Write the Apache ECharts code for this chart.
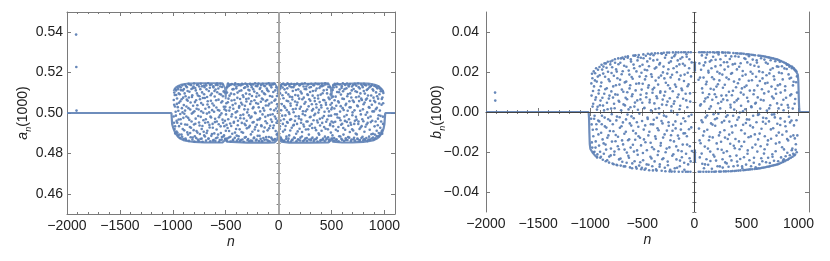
<!DOCTYPE html>
<html><head><meta charset="utf-8">
<script src="https://cdn.jsdelivr.net/npm/echarts@6/dist/echarts.min.js"></script>
<style>html,body{margin:0;padding:0;background:#fff}#c{width:830px;height:261px}</style>
</head><body><div id="c"></div>
<script>
// ---------- tick labels ----------
const xTicks = [-2000, -1500, -1000, -500, 0, 500, 1000];
const aTicks = [0.46, 0.48, 0.50, 0.52, 0.54];
const bTicks = [-0.04, -0.02, 0.00, 0.02, 0.04];

// ---------- a_n(1000) ----------
const aOutliers = [[-1914,0.5388],[-1912,0.5228],[-1910,0.5012]];
const aLowerEdge = [[-2000,0.5],[-1013,0.5],[-1010,0.4975],[-1006,0.4945],[-995,0.4925],[-980,0.4905],[-965,0.4893],[-950,0.4882],[-925,0.4872],[-900,0.4866],[-850,0.486],[-800,0.4857],[-700,0.4855],[-600,0.4854],[-530,0.4854],[-512,0.4858],[-504,0.4868],[-500,0.4878],[-496,0.4868],[-488,0.4858],[-470,0.4854],[-300,0.4853],[-100,0.4853],[-40,0.4854],[-25,0.4858],[-14,0.4868],[-7,0.4885],[-3,0.4898],[0,0.491],[3,0.4898],[7,0.4885],[14,0.4868],[25,0.4858],[40,0.4854],[100,0.4853],[300,0.4853],[470,0.4854],[488,0.4858],[496,0.4868],[500,0.4878],[504,0.4868],[512,0.4858],[530,0.4854],[600,0.4854],[700,0.4855],[800,0.4857],[850,0.486],[900,0.4866],[925,0.4872],[950,0.4882],[965,0.4893],[980,0.4905],[993,0.4925],[1000,0.4945],[1004,0.4975],[1008,0.5],[1100,0.5]];
const aUpperEdge = [[-993,0.5108],[-985,0.5118],[-970,0.5128],[-950,0.5135],[-925,0.514],[-900,0.5143],[-850,0.5146],[-750,0.5148],[-530,0.5148],[-516,0.5142],[-508,0.5125],[-503,0.5095],[-500,0.5068],[-497,0.5095],[-492,0.5125],[-484,0.5142],[-470,0.5148],[-40,0.5148],[-26,0.5142],[-16,0.513],[-8,0.5108],[-3,0.509],[0,0.5078],[3,0.509],[8,0.5108],[16,0.513],[26,0.5142],[40,0.5148],[470,0.5148],[484,0.5142],[492,0.5125],[497,0.5095],[500,0.507],[503,0.5095],[508,0.5125],[516,0.5142],[530,0.5148],[750,0.5148],[850,0.5146],[900,0.5142],[925,0.5138],[950,0.5131],[970,0.5122],[985,0.5112],[993,0.5104]];
const aCloud = [
[-991,0.5064],[-988,0.4952],[-986,0.5101],[-983,0.4921],[-980,0.5032],[-977,0.4899],[-975,0.5118],[-971,0.4987],[-968,0.5089],[-965,0.4908],[-962,0.5045],[-958,0.4952],[-955,0.5126],[-951,0.4889],[-948,0.5011],[-944,0.5097],[-941,0.4935],[-937,0.5132],[-933,0.4877],[-929,0.5058],[-926,0.4969],[-922,0.5113],[-918,0.4893],[-914,0.5024],[-910,0.5137],[-906,0.4921],[-902,0.5076],
[-898,0.4871],[-895,0.5119],[-891,0.4996],[-887,0.5141],[-883,0.4943],[-879,0.5083],[-875,0.4866],[-871,0.5032],[-867,0.5128],[-863,0.4904],[-859,0.5061],[-855,0.4976],[-851,0.5144],[-847,0.4862],[-843,0.5105],[-839,0.4931],[-835,0.5017],[-831,0.4880],[-827,0.5138],[-823,0.4958],[-819,0.5079],[-815,0.4869],[-811,0.5123],[-807,0.5003],[-803,0.4915],
[-799,0.5146],[-795,0.4859],[-791,0.5054],[-787,0.4947],[-783,0.5112],[-779,0.4876],[-775,0.5021],[-771,0.5139],[-767,0.4903],[-763,0.5087],[-759,0.4985],[-755,0.4862],[-751,0.5131],[-747,0.4938],[-743,0.5068],[-739,0.4871],[-735,0.5145],[-731,0.5009],[-727,0.4921],[-723,0.5102],[-719,0.4858],[-715,0.5041],[-711,0.4964],[-707,0.5136],[-703,0.4889],
[-698,0.5074],[-694,0.4952],[-690,0.5143],[-686,0.4863],[-682,0.5117],[-678,0.4997],[-674,0.4912],[-670,0.5058],[-666,0.5147],[-662,0.4874],[-658,0.5029],[-654,0.4941],[-650,0.5125],[-646,0.4860],[-642,0.5088],[-638,0.4978],[-634,0.5141],[-630,0.4896],[-626,0.5047],[-622,0.4927],[-618,0.5132],[-614,0.4866],[-610,0.5006],[-606,0.5109],[-602,0.4955],
[-598,0.4861],[-594,0.5139],[-590,0.5063],[-586,0.4918],[-582,0.5146],[-578,0.4879],[-574,0.5015],[-570,0.5121],[-566,0.4944],[-562,0.4858],[-558,0.5094],[-554,0.4989],[-550,0.5144],[-546,0.4901],[-542,0.5052],[-538,0.4868],[-534,0.5129],[-530,0.4967],[-526,0.5083],[-522,0.4884],[-518,0.5031],[-513,0.4935],[-509,0.5102],[-506,0.4871],
[-497,0.4993],[-494,0.5048],[-490,0.4862],[-486,0.5127],[-482,0.4926],[-478,0.5146],[-474,0.5071],[-470,0.4879],[-466,0.5012],[-462,0.5138],[-458,0.4948],[-454,0.4859],[-450,0.5096],[-446,0.4983],[-442,0.5143],[-438,0.4897],[-434,0.5039],[-430,0.4868],[-426,0.5118],[-422,0.4957],[-418,0.5064],[-414,0.4877],[-410,0.5147],[-406,0.5003],[-402,0.4921],
[-398,0.5131],[-394,0.4863],[-390,0.5075],[-386,0.4939],[-382,0.5142],[-378,0.4885],[-374,0.5026],[-370,0.5109],[-366,0.4861],[-362,0.4974],[-358,0.5137],[-354,0.5051],[-350,0.4906],[-346,0.5145],[-342,0.4869],[-338,0.5088],[-334,0.4992],[-330,0.4858],[-326,0.5124],[-322,0.4947],[-318,0.5036],[-314,0.5146],[-310,0.4881],[-306,0.5069],[-302,0.4962],
[-298,0.5139],[-294,0.4866],[-290,0.5017],[-286,0.5115],[-282,0.4929],[-278,0.4860],[-274,0.5093],[-270,0.5144],[-266,0.4976],[-262,0.4894],[-258,0.5058],[-254,0.5128],[-250,0.4862],[-246,0.4953],[-242,0.5141],[-238,0.5029],[-234,0.4875],[-230,0.5106],[-226,0.4918],[-222,0.5147],[-218,0.4999],[-214,0.4864],[-210,0.5081],[-206,0.4942],[-202,0.5133],
[-198,0.4887],[-194,0.5046],[-190,0.5146],[-186,0.4861],[-182,0.4968],[-178,0.5119],[-174,0.5008],[-170,0.4872],[-166,0.5138],[-162,0.4935],[-158,0.5072],[-154,0.4859],[-150,0.5145],[-146,0.5024],[-142,0.4908],[-138,0.5097],[-134,0.4867],[-130,0.5133],[-126,0.4981],[-122,0.5059],[-118,0.4881],[-114,0.5143],[-110,0.4949],[-106,0.5113],[-102,0.4863],
[-98,0.5037],[-94,0.5147],[-90,0.4924],[-86,0.4860],[-82,0.5084],[-78,0.4991],[-74,0.5136],[-70,0.4878],[-66,0.5052],[-62,0.4957],[-58,0.5141],[-54,0.4865],[-50,0.5104],[-46,0.4938],[-42,0.5013],[-38,0.5145],[-34,0.4871],[-30,0.5066],[-26,0.4972],[-22,0.5127],[-18,0.4893],[-14,0.5043],[-10,0.4961],[-6,0.5032],
[4,0.4978],[8,0.5069],[12,0.4934],[16,0.5121],[20,0.4879],[24,0.5013],[28,0.5142],[32,0.4866],[36,0.5088],[40,0.4946],[44,0.5146],[48,0.4861],[52,0.5034],[56,0.5117],[60,0.4917],[64,0.4988],[68,0.5139],[72,0.4872],[76,0.5061],[80,0.4955],[84,0.5147],[88,0.4862],[92,0.5092],[96,0.5004],
[100,0.4889],[104,0.5133],[108,0.4966],[112,0.5047],[116,0.4859],[120,0.5145],[124,0.4927],[128,0.5079],[132,0.4868],[136,0.5018],[140,0.5128],[144,0.4941],[148,0.5143],[152,0.4876],[156,0.5057],[160,0.4984],[164,0.5114],[168,0.4860],[172,0.5039],[176,0.5146],[180,0.4909],[184,0.5086],[188,0.4869],[192,0.4973],[196,0.5137],
[200,0.5021],[204,0.4864],[208,0.5106],[212,0.4952],[216,0.5144],[220,0.4884],[224,0.5068],[228,0.4995],[232,0.4861],[236,0.5131],[240,0.4933],[244,0.5046],[248,0.5147],[252,0.4873],[256,0.5009],[260,0.5118],[264,0.4958],[268,0.4862],[272,0.5092],[276,0.5141],[280,0.4919],[284,0.5033],[288,0.4869],[292,0.5126],[296,0.4979],
[300,0.5061],[304,0.4865],[308,0.5145],[312,0.4945],[316,0.5012],[320,0.4878],[324,0.5109],[328,0.5139],[332,0.4861],[336,0.4989],[340,0.5074],[344,0.4927],[348,0.5146],[352,0.4870],[356,0.5043],[360,0.5121],[364,0.4963],[368,0.4859],[372,0.5087],[376,0.5002],[380,0.5143],[384,0.4892],[388,0.5054],[392,0.4938],[396,0.5132],
[400,0.4866],[404,0.5027],[408,0.5144],[412,0.4951],[416,0.5098],[420,0.4874],[424,0.5136],[428,0.4985],[432,0.5063],[436,0.4862],[440,0.5147],[444,0.4922],[448,0.5041],[452,0.4869],[456,0.5115],[460,0.4968],[464,0.5142],[468,0.4880],[472,0.5076],[476,0.5008],[480,0.4861],[484,0.5128],[488,0.4946],[492,0.5092],[496,0.4987],
[503,0.5049],[507,0.4873],[511,0.5114],[515,0.4934],[519,0.5137],[523,0.4864],[527,0.5022],[531,0.5145],[535,0.4957],[539,0.5081],[543,0.4868],[547,0.5129],[551,0.4993],[555,0.5146],[559,0.4911],[563,0.5058],[567,0.4860],[571,0.5103],[575,0.4975],[579,0.5141],[583,0.4884],[587,0.5034],[591,0.4942],[595,0.5124],[599,0.4867],
[603,0.5071],[607,0.5147],[611,0.4926],[615,0.5015],[619,0.4862],[623,0.5118],[627,0.4961],[631,0.5139],[635,0.4875],[639,0.5046],[643,0.4990],[647,0.5146],[651,0.4866],[655,0.5094],[659,0.4937],[663,0.5131],[667,0.4878],[671,0.5028],[675,0.5143],[679,0.4952],[683,0.4861],[687,0.5077],[691,0.5112],[695,0.4919],[699,0.5003],
[703,0.5138],[707,0.4869],[711,0.5055],[715,0.4946],[719,0.5144],[723,0.4863],[727,0.5108],[731,0.4981],[735,0.5135],[739,0.4894],[743,0.5037],[747,0.4870],[751,0.5146],[755,0.4958],[759,0.5082],[763,0.4862],[767,0.5121],[771,0.5011],[775,0.4928],[779,0.5142],[783,0.4876],[787,0.5064],[791,0.4969],[795,0.5128],[799,0.4865],
[803,0.5043],[807,0.5144],[811,0.4907],[815,0.5096],[819,0.4866],[823,0.4991],[827,0.5137],[831,0.4943],[835,0.5072],[839,0.4861],[843,0.5119],[847,0.4976],[851,0.5141],[855,0.4883],[859,0.5026],[863,0.4868],[867,0.5132],[871,0.4955],[875,0.5087],[879,0.4874],[883,0.5139],[887,0.5008],[891,0.4897],[895,0.5111],[899,0.4869],
[903,0.5061],[907,0.4934],[911,0.5136],[915,0.4875],[919,0.5019],[923,0.5129],[927,0.4912],[931,0.5083],[935,0.4884],[939,0.4972],[943,0.5131],[947,0.4901],[951,0.5047],[955,0.5122],[959,0.4893],[963,0.4986],[967,0.5117],[971,0.4904],[975,0.5069],[979,0.4897],[983,0.5108],[987,0.4946],[990,0.5099]
];
const aCloudMore = [
[-992,0.4983],[-987,0.5041],[-982,0.5089],[-978,0.4934],[-973,0.5006],[-969,0.5112],[-964,0.4961],[-960,0.5072],[-956,0.4902],[-953,0.5029],[-949,0.5118],[-945,0.4968],[-942,0.5051],[-938,0.4893],[-934,0.5093],[-930,0.4995],[-925,0.5127],[-921,0.4947],[-917,0.5068],[-912,0.4882],[-908,0.5003],[-904,0.5112],[-900,0.4976],
[-896,0.5039],[-892,0.4914],[-888,0.5097],[-884,0.5012],[-880,0.4874],[-876,0.5134],[-872,0.4983],[-868,0.5066],[-864,0.4942],[-860,0.5109],[-856,0.4893],[-852,0.5024],[-848,0.5077],[-844,0.4966],[-840,0.5141],[-836,0.4901],[-832,0.5052],[-828,0.4927],[-824,0.5119],[-820,0.4997],[-816,0.5088],[-812,0.4879],[-808,0.5036],[-804,0.5131],
[-800,0.4943],[-796,0.5009],[-792,0.4885],[-788,0.5124],[-784,0.4972],[-780,0.5063],[-776,0.4911],[-772,0.5097],[-768,0.5038],[-764,0.4868],[-760,0.5141],[-756,0.5017],[-752,0.4953],[-748,0.5083],[-744,0.4896],[-740,0.5118],[-736,0.4981],[-732,0.5049],[-728,0.4873],[-724,0.5132],[-720,0.4936],[-716,0.5074],[-712,0.5001],[-708,0.4907],[-704,0.5093],
[-700,0.5128],[-696,0.4884],[-692,0.5021],[-688,0.4969],[-684,0.5136],[-680,0.4901],[-676,0.5079],[-672,0.5042],[-668,0.4954],[-664,0.4872],[-660,0.5109],[-656,0.5003],[-652,0.4928],[-648,0.5139],[-644,0.4982],[-640,0.5061],[-636,0.4887],[-632,0.5096],[-628,0.5014],[-624,0.4946],[-620,0.4863],[-616,0.5127],[-612,0.5037],[-608,0.4899],[-604,0.5082],
[-600,0.4971],[-596,0.5116],[-592,0.4875],[-588,0.5027],[-584,0.4958],[-580,0.5103],[-576,0.5138],[-572,0.4893],[-568,0.5066],[-564,0.4979],[-560,0.5012],[-556,0.4866],[-552,0.5131],[-548,0.4934],[-544,0.5091],[-540,0.4998],[-536,0.4881],[-532,0.5058],[-528,0.5141],[-524,0.4952],[-520,0.5107],[-516,0.4889],[-511,0.5018],[-507,0.4962],[-503,0.5031],
[-499,0.4912],[-495,0.5012],[-492,0.4941],[-488,0.5101],[-484,0.4874],[-480,0.5053],[-476,0.4969],[-472,0.5134],[-468,0.4911],[-464,0.5086],[-460,0.5027],[-456,0.4882],[-452,0.5141],[-448,0.4936],[-444,0.5062],[-440,0.4994],[-436,0.5117],[-432,0.4865],[-428,0.5021],[-424,0.4952],[-420,0.5093],[-416,0.5139],[-412,0.4903],[-408,0.5047],[-404,0.4978],
[-400,0.5122],[-396,0.4888],[-392,0.5008],[-388,0.5101],[-384,0.4962],[-380,0.4871],[-376,0.5138],[-372,0.5034],[-368,0.4919],[-364,0.5069],[-360,0.4989],[-356,0.4866],[-352,0.5112],[-348,0.4951],[-344,0.5042],[-340,0.5141],[-336,0.4902],[-332,0.5079],[-328,0.4973],[-324,0.5018],[-320,0.4878],[-316,0.5127],[-312,0.4939],[-308,0.5096],[-304,0.5057],
[-300,0.4924],[-296,0.5003],[-292,0.5131],[-288,0.4871],[-284,0.5072],[-280,0.4988],[-276,0.5112],[-272,0.4937],[-268,0.5045],[-264,0.4863],[-260,0.5139],[-256,0.4982],[-252,0.5084],[-248,0.4907],[-244,0.5023],[-240,0.5118],[-236,0.4955],[-232,0.4879],[-228,0.5063],[-224,0.5002],[-220,0.4931],[-216,0.5134],[-212,0.5049],[-208,0.4868],[-204,0.5098],
[-200,0.4966],[-196,0.5141],[-192,0.4912],[-188,0.5028],[-184,0.5087],[-180,0.4887],[-176,0.4974],[-172,0.5125],[-168,0.5056],[-164,0.4939],[-160,0.4862],[-156,0.5107],[-152,0.4993],[-148,0.5067],[-144,0.4876],[-140,0.5136],[-136,0.5012],[-132,0.4928],[-128,0.5093],[-124,0.4959],[-120,0.5037],[-116,0.4869],[-112,0.5121],[-108,0.5064],[-104,0.4914],
[-100,0.4988],[-96,0.5108],[-92,0.4881],[-88,0.5046],[-84,0.5138],[-80,0.4937],[-76,0.5018],[-72,0.4968],[-68,0.5127],[-64,0.4872],[-60,0.5081],[-56,0.4994],[-52,0.4926],[-48,0.5143],[-44,0.4867],[-40,0.5061],[-36,0.4983],[-32,0.5112],[-28,0.4911],[-24,0.5022],[-20,0.4952],[-16,0.5084],[-12,0.4897],[-8,0.5008],
[6,0.5013],[10,0.4921],[14,0.5097],[18,0.4963],[22,0.5134],[26,0.4871],[30,0.5044],[34,0.4987],[38,0.5126],[42,0.4908],[46,0.5073],[50,0.4969],[54,0.4864],[58,0.5139],[62,0.5026],[66,0.4936],[70,0.5101],[74,0.4883],[78,0.5014],[82,0.5122],[86,0.4952],[90,0.5058],[94,0.4873],[98,0.5142],
[102,0.4995],[106,0.5081],[110,0.4913],[114,0.5036],[118,0.4969],[122,0.5128],[126,0.4866],[130,0.5067],[134,0.5109],[138,0.4938],[142,0.5004],[146,0.4879],[150,0.5136],[154,0.4961],[158,0.5089],[162,0.5021],[166,0.4897],[170,0.5143],[174,0.4946],[178,0.5052],[182,0.4869],[186,0.5117],[190,0.4984],[194,0.5071],[198,0.4922],
[202,0.5138],[206,0.4878],[210,0.5031],[214,0.4967],[218,0.5097],[222,0.4906],[226,0.5144],[230,0.5009],[234,0.4943],[238,0.5076],[242,0.4865],[246,0.5119],[250,0.4989],[254,0.5054],[258,0.4918],[262,0.5131],[266,0.4876],[270,0.5017],[274,0.4958],[278,0.5089],[282,0.5142],[286,0.4893],[290,0.5068],[294,0.4937],[298,0.5104],
[302,0.4981],[306,0.5129],[310,0.4872],[314,0.5043],[318,0.4926],[322,0.5086],[326,0.5019],[330,0.4964],[334,0.5137],[338,0.4869],[342,0.5059],[346,0.4996],[350,0.5111],[354,0.4915],[358,0.5027],[362,0.4877],[366,0.5143],[370,0.4953],[374,0.5072],[378,0.4899],[382,0.5016],[386,0.5124],[390,0.4971],[394,0.4863],[398,0.5091],
[402,0.5038],[406,0.4912],[410,0.5133],[414,0.4976],[418,0.4868],[422,0.5064],[426,0.5112],[430,0.4931],[434,0.5006],[438,0.4883],[442,0.5141],[446,0.5051],[450,0.4957],[454,0.4874],[458,0.5097],[462,0.5022],[466,0.4919],[470,0.5129],[474,0.4986],[478,0.4868],[482,0.5068],[486,0.4939],[490,0.5041],[494,0.4903],[498,0.5018],
[501,0.4958],[505,0.5027],[509,0.4889],[513,0.5081],[517,0.4953],[521,0.5126],[525,0.4876],[529,0.5063],[533,0.4994],[537,0.5139],[541,0.4917],[545,0.5036],[549,0.4868],[553,0.5104],[557,0.4978],[561,0.5142],[565,0.4931],[569,0.5052],[573,0.4885],[577,0.5116],[581,0.5007],[585,0.4964],[589,0.5091],[593,0.4872],[597,0.5133],
[601,0.4947],[605,0.5024],[609,0.5108],[613,0.4893],[617,0.5069],[621,0.4983],[625,0.5141],[629,0.4917],[633,0.5039],[637,0.4866],[641,0.5122],[645,0.4956],[649,0.5083],[653,0.5011],[657,0.4881],[661,0.5137],[665,0.4969],[669,0.5058],[673,0.4906],[677,0.5097],[681,0.5028],[685,0.4942],[689,0.4869],[693,0.5131],[697,0.4989],
[701,0.5062],[705,0.4913],[709,0.5119],[713,0.4877],[717,0.5013],[721,0.4962],[725,0.5141],[729,0.4898],[733,0.5078],[737,0.4967],[741,0.5104],[745,0.4874],[749,0.5033],[753,0.4946],[757,0.5128],[761,0.5059],[765,0.4921],[769,0.4866],[773,0.5097],[777,0.4993],[781,0.5071],[785,0.4935],[789,0.5136],[793,0.4882],[797,0.5018],
[801,0.4959],[805,0.5109],[809,0.4871],[813,0.5052],[817,0.5139],[821,0.4932],[825,0.5066],[829,0.4876],[833,0.5114],[837,0.5003],[841,0.4951],[845,0.5087],[849,0.4869],[853,0.5029],[857,0.5126],[861,0.4917],[865,0.5061],[869,0.4983],[873,0.5134],[877,0.4895],[881,0.5041],[885,0.4962],[889,0.5117],[893,0.4879],[897,0.5076],
[901,0.5008],[905,0.5134],[909,0.4893],[913,0.5054],[917,0.4958],[921,0.5102],[925,0.4886],[929,0.5026],[933,0.5122],[937,0.4939],[941,0.5071],[945,0.4989],[949,0.4886],[953,0.5093],[957,0.5012],[961,0.4927],[965,0.5108],[969,0.4958],[973,0.5041],[977,0.4913],[981,0.5077],[985,0.4982],[988,0.5048]
];

// ---------- b_n(1000) ----------
const bOutliers = [[-1913,0.0097],[-1911,0.0057]];
const bStepLeft = [[-2000,0],[-1015,0],[-1011,-0.003],[-1008,-0.010],[-1004,-0.016],[-998,-0.0185],[-988,-0.0195],[-975,-0.0204],[-955,-0.0217],[-930,-0.0228]];
const bStepRight = [[930,0.0228],[955,0.0217],[975,0.0204],[988,0.0194],[993,0.0186],[997,0.016],[1000,0.011],[1003,0.005],[1006,0.0015],[1010,0],[1100,0]];
const bSpikeUp = [[4,0.0203],[4,0.0253]];
const bSpikeDown = [[4,-0.0188],[4,-0.0255]];
const bCloud = [
[-989,0.0143],[-986,-0.0062],[-983,0.0191],[-980,-0.0178],[-977,0.0027],[-973,0.0105],[-970,-0.0121],[-966,0.0203],[-962,-0.0034],[-959,-0.0199],[-955,0.0158],[-951,0.0061],[-947,-0.0147],[-943,0.0219],[-939,-0.0086],[-935,0.0012],[-931,-0.0212],[-927,0.0177],[-923,-0.0043],[-919,0.0092],[-915,-0.0168],[-911,0.0225],[-907,0.0034],[-903,-0.0229],
[-899,0.0129],[-895,-0.0104],[-891,0.0236],[-887,-0.0019],[-883,0.0071],[-879,-0.0239],[-875,0.0192],[-871,-0.0157],[-867,0.0008],[-863,0.0243],[-859,-0.0072],[-855,0.0114],[-851,-0.0246],[-847,-0.0188],[-843,0.0221],[-839,0.0046],[-835,-0.0129],[-831,0.0251],[-827,-0.0036],[-823,0.0163],[-819,-0.0253],[-815,0.0082],[-811,-0.0095],[-807,0.0238],[-803,-0.0217],
[-799,0.0017],[-795,0.0195],[-791,-0.0148],[-787,0.0257],[-783,-0.0061],[-779,0.0128],[-775,-0.0261],[-771,0.0041],[-767,-0.0198],[-763,0.0264],[-759,0.0088],[-755,-0.0115],[-751,0.0213],[-747,-0.0264],[-743,-0.0023],[-739,0.0169],[-735,-0.0171],[-731,0.0268],[-727,0.0056],[-723,-0.0237],[-719,0.0137],[-715,-0.0079],[-711,0.0246],[-707,-0.0268],[-703,0.0009],
[-698,0.0189],[-694,-0.0142],[-690,0.0272],[-686,-0.0052],[-682,0.0101],[-678,-0.0272],[-674,0.0231],[-670,-0.0188],[-666,0.0033],[-662,0.0276],[-658,-0.0099],[-654,0.0152],[-650,-0.0254],[-646,0.0064],[-642,-0.0013],[-638,0.0278],[-634,-0.0219],[-630,0.0207],[-626,-0.0136],[-622,0.0118],[-618,-0.0277],[-614,0.0024],[-610,0.0263],[-606,-0.0068],[-602,0.0175],
[-598,-0.0281],[-594,0.0089],[-590,-0.0164],[-586,0.0282],[-582,-0.0031],[-578,0.0219],[-574,-0.0246],[-570,0.0047],[-566,0.0284],[-562,-0.0107],[-558,0.0141],[-554,-0.0283],[-550,-0.0192],[-546,0.0258],[-542,0.0011],[-538,-0.0074],[-534,0.0285],[-530,-0.0268],[-526,0.0177],[-522,-0.0129],[-518,0.0063],[-514,0.0271],[-510,-0.0286],[-506,0.0112],[-502,-0.0045],
[-498,0.0236],[-494,-0.0205],[-490,0.0288],[-486,-0.0088],[-482,0.0019],[-478,-0.0289],[-474,0.0163],[-470,-0.0151],[-466,0.0281],[-462,0.0074],[-458,-0.0262],[-454,0.0209],[-450,-0.0028],[-446,0.0291],[-442,-0.0117],[-438,0.0134],[-434,-0.0291],[-430,0.0048],[-426,0.0267],[-422,-0.0224],[-418,-0.0061],[-414,0.0189],[-410,0.0292],[-406,-0.0176],[-402,0.0096],
[-398,-0.0292],[-394,0.0258],[-390,-0.0039],[-386,0.0121],[-382,-0.0247],[-378,0.0293],[-374,0.0015],[-370,-0.0134],[-366,0.0223],[-362,-0.0293],[-358,0.0069],[-354,-0.0081],[-350,0.0294],[-346,-0.0196],[-342,0.0172],[-338,-0.0008],[-334,-0.0274],[-330,0.0245],[-326,0.0103],[-322,-0.0155],[-318,0.0294],[-314,-0.0294],[-310,0.0037],[-306,-0.0057],[-302,0.0198],
[-298,-0.0231],[-294,0.0296],[-290,0.0082],[-286,-0.0112],[-282,0.0271],[-278,-0.0296],[-274,0.0146],[-270,-0.0023],[-266,-0.0183],[-262,0.0297],[-258,0.0052],[-254,-0.0266],[-250,0.0214],[-246,-0.0069],[-242,0.0297],[-238,-0.0297],[-234,0.0118],[-230,-0.0141],[-226,0.0253],[-222,0.0006],[-218,-0.0298],[-214,0.0186],[-210,-0.0094],[-206,0.0298],[-202,-0.0211],
[-198,0.0041],[-194,0.0279],[-190,-0.0298],[-186,0.0137],[-182,-0.0047],[-178,0.0298],[-174,-0.0172],[-170,0.0229],[-166,-0.0279],[-162,0.0074],[-158,-0.0118],[-154,0.0298],[-150,-0.0299],[-146,0.0163],[-142,0.0014],[-138,-0.0243],[-134,0.0266],[-130,-0.0088],[-126,0.0299],[-122,-0.0196],[-118,0.0109],[-114,-0.0299],[-110,0.0241],[-106,-0.0031],[-102,0.0299],
[-98,-0.0254],[-94,0.0187],[-90,-0.0106],[-86,0.0299],[-82,-0.0299],[-78,0.0058],[-74,0.0276],[-70,-0.0163],[-66,0.0129],[-62,-0.0299],[-58,0.0299],[-54,-0.0021],[-50,0.0219],[-46,-0.0231],[-42,0.0093],[-38,-0.0299],[-34,0.0299],[-30,-0.0077],[-26,0.0248],
[42,-0.0299],[46,0.0299],[50,-0.0142],[54,0.0172],[58,-0.0299],[62,0.0039],[66,0.0299],[70,-0.0208],[74,0.0118],[78,-0.0051],[82,0.0299],[86,-0.0299],[90,0.0233],[94,-0.0097],[98,0.0299],
[102,-0.0262],[106,0.0067],[110,0.0271],[114,-0.0299],[118,0.0151],[122,-0.0018],[126,0.0299],[130,-0.0183],[134,0.0206],[138,-0.0299],[142,0.0089],[146,-0.0124],[150,0.0299],[154,-0.0245],[158,0.0028],[162,0.0259],[166,-0.0299],[170,0.0174],[174,-0.0063],[178,0.0299],[182,-0.0214],[186,0.0112],[190,-0.0299],[194,0.0297],[198,-0.0036],
[202,0.0228],[206,-0.0298],[210,0.0075],[214,-0.0157],[218,0.0298],[222,-0.0271],[226,0.0139],[230,-0.0009],[234,0.0298],[238,-0.0298],[242,0.0193],[246,-0.0102],[250,0.0264],[254,-0.0298],[258,0.0051],[262,-0.0189],[266,0.0298],[270,-0.0236],[274,0.0121],[278,0.0297],[282,-0.0297],[286,-0.0044],[290,0.0212],[294,-0.0128],[298,0.0297],
[302,-0.0297],[306,0.0083],[310,-0.0257],[314,0.0249],[318,-0.0016],[322,0.0297],[326,-0.0296],[330,0.0164],[334,-0.0113],[338,0.0296],[342,-0.0221],[346,0.0036],[350,-0.0296],[354,0.0278],[358,-0.0072],[362,0.0195],[366,-0.0295],[370,0.0106],[374,0.0295],[378,-0.0169],[382,0.0012],[386,-0.0295],[390,0.0241],[394,-0.0135],[398,0.0294],
[402,-0.0294],[406,0.0058],[410,-0.0248],[414,0.0293],[418,0.0144],[422,-0.0293],[426,-0.0027],[430,0.0226],[434,-0.0186],[438,0.0292],[442,-0.0292],[446,0.0097],[450,-0.0091],[454,0.0292],[458,-0.0272],[462,0.0181],[466,0.0004],[470,-0.0291],[474,0.0291],[478,-0.0149],[482,0.0125],[486,-0.0290],[490,0.0265],[494,-0.0055],[498,0.0289],
[502,-0.0289],[506,0.0071],[510,-0.0209],[514,0.0288],[518,-0.0288],[522,0.0156],[526,-0.0038],[530,0.0287],[534,-0.0287],[538,0.0237],[542,-0.0122],[546,0.0029],[550,0.0286],[554,-0.0286],[558,0.0191],[562,-0.0077],[566,0.0285],[570,-0.0254],[574,0.0108],[578,-0.0285],[582,0.0284],[586,-0.0163],[590,0.0046],[594,-0.0284],[598,0.0259],
[602,-0.0283],[606,0.0132],[610,-0.0015],[614,0.0282],[618,-0.0282],[622,0.0203],[626,-0.0108],[630,0.0281],[634,-0.0281],[638,0.0061],[642,-0.0231],[646,0.0280],[650,-0.0279],[654,0.0168],[658,-0.0049],[662,0.0279],[666,-0.0278],[670,0.0093],[674,-0.0186],[678,0.0277],[682,-0.0276],[686,0.0247],[690,-0.0031],[694,0.0275],[698,-0.0274],
[702,0.0146],[706,-0.0142],[710,0.0273],[714,-0.0273],[718,0.0018],[722,0.0272],[726,-0.0271],[730,0.0211],[734,-0.0087],[738,0.0270],[742,-0.0269],[746,0.0077],[750,-0.0224],[754,0.0268],[758,-0.0267],[762,0.0179],[766,-0.0012],[770,0.0266],[774,-0.0265],[778,0.0115],[782,-0.0158],[786,0.0264],[790,-0.0263],[794,0.0043],[798,0.0262],
[802,-0.0261],[806,0.0226],[810,-0.0103],[814,0.0259],[818,-0.0258],[822,0.0138],[826,-0.0032],[830,0.0255],[834,-0.0254],[838,0.0194],[842,-0.0176],[846,0.0251],[850,-0.0250],[854,0.0061],[858,-0.0236],[862,0.0247],[866,-0.0246],[870,0.0108],[874,-0.0071],[878,0.0243],[882,-0.0241],[886,0.0215],[890,-0.0135],[894,0.0239],[898,-0.0238],
[902,0.0022],[906,0.0235],[910,-0.0233],[914,0.0167],[918,-0.0052],[922,0.0230],[926,-0.0229],[930,0.0089],[934,-0.0191],[938,0.0226],[942,-0.0224],[946,0.0133],[950,-0.0117],[954,0.0219],[958,-0.0217],[962,0.0041],[966,-0.0213],[970,0.0208],[974,-0.0161],[978,0.0204],[982,-0.0201],[985,0.0097]
];
const bCloudMore = [
[-991,-0.0034],[-987,0.0082],[-984,-0.0152],[-979,0.0169],[-975,-0.0089],[-971,0.0041],[-967,-0.0201],[-963,0.0128],[-958,-0.0019],[-953,0.0194],[-949,-0.0178],[-945,0.0073],[-941,-0.0061],[-937,0.0152],[-933,-0.0227],[-929,0.0026],[-925,0.0211],[-921,-0.0112],[-917,0.0109],[-913,-0.0047],[-909,0.0184],[-905,-0.0199],
[-901,0.0057],[-897,-0.0224],[-893,0.0147],[-889,-0.0061],[-885,0.0212],[-881,-0.0137],[-877,0.0032],[-873,0.0227],[-869,-0.0209],[-865,0.0091],[-861,-0.0028],[-857,0.0176],[-853,-0.0163],[-849,0.0243],[-845,-0.0078],[-841,0.0119],[-837,-0.0241],[-833,0.0014],[-829,0.0201],[-825,-0.0117],[-821,0.0067],[-817,-0.0223],[-813,0.0154],[-809,-0.0044],[-805,0.0252],
[-801,-0.0183],[-797,0.0103],[-793,-0.0011],[-789,0.0224],[-785,-0.0258],[-781,0.0072],[-777,-0.0096],[-773,0.0181],[-769,-0.0214],[-765,0.0019],[-761,0.0246],[-757,-0.0146],[-753,0.0134],[-749,-0.0042],[-745,0.0202],[-741,-0.0266],[-737,0.0086],[-733,-0.0124],[-729,0.0239],[-725,-0.0186],[-721,0.0051],[-717,-0.0026],[-713,0.0161],[-709,-0.0233],[-705,0.0268],
[-700,-0.0071],[-696,0.0112],[-692,-0.0249],[-688,0.0204],[-684,-0.0162],[-680,0.0038],[-676,0.0265],[-672,-0.0109],[-668,0.0148],[-664,-0.0272],[-660,0.0071],[-656,-0.0037],[-652,0.0226],[-648,-0.0203],[-644,0.0099],[-640,0.0271],[-636,-0.0141],[-632,0.0013],[-628,-0.0229],[-624,0.0187],[-620,-0.0057],[-616,0.0134],[-612,-0.0178],[-608,0.0252],[-604,-0.0022],
[-600,0.0079],[-596,-0.0257],[-592,0.0166],[-588,-0.0094],[-584,0.0237],[-580,-0.0198],[-576,0.0027],[-572,0.0281],[-568,-0.0139],[-564,0.0108],[-560,-0.0275],[-556,0.0203],[-552,-0.0051],[-548,0.0058],[-544,-0.0214],[-540,0.0274],[-536,-0.0121],[-532,0.0143],[-528,-0.0008],[-524,0.0229],[-520,-0.0251],[-516,0.0086],[-512,-0.0167],[-508,0.0196],[-504,-0.0279],
[-500,0.0046],[-496,0.0141],[-492,-0.0241],[-488,0.0269],[-484,-0.0137],[-480,0.0021],[-476,0.0211],[-472,-0.0067],[-468,-0.0283],[-464,0.0179],[-460,0.0093],[-456,-0.0191],[-452,0.0253],[-448,-0.0035],[-444,0.0122],[-440,-0.0264],[-436,0.0229],[-432,-0.0099],[-428,0.0061],[-424,0.0287],[-420,-0.0154],[-416,0.0008],[-412,-0.0232],[-408,0.0176],[-404,-0.0271],
[-400,0.0113],[-396,-0.0062],[-392,0.0284],[-388,-0.0186],[-384,0.0043],[-380,0.0217],[-376,-0.0122],[-372,0.0157],[-368,-0.0287],[-364,0.0079],[-360,-0.0029],[-356,0.0261],[-352,-0.0215],[-348,0.0137],[-344,-0.0091],[-340,0.0019],[-336,0.0238],[-332,-0.0262],[-328,0.0096],[-324,-0.0168],[-320,0.0182],[-316,-0.0045],[-312,0.0291],[-308,-0.0236],[-304,0.0062],
[-300,-0.0128],[-296,0.0227],[-292,-0.0018],[-288,0.0168],[-284,-0.0279],[-280,0.0101],[-276,-0.0201],[-272,0.0285],[-268,0.0035],[-264,-0.0093],[-260,0.0192],[-256,-0.0248],[-252,0.0134],[-248,-0.0051],[-244,0.0246],[-240,-0.0177],[-236,0.0069],[-232,-0.0289],[-228,0.0173],[-224,-0.0116],[-220,0.0028],[-216,0.0271],[-212,-0.0219],[-208,0.0104],[-204,-0.0064],
[-200,0.0219],[-196,-0.0147],[-192,0.0054],[-188,-0.0281],[-184,0.0287],[-180,-0.0082],[-176,0.0126],[-172,-0.0237],[-168,0.0199],[-164,-0.0013],[-160,0.0258],[-156,-0.0192],[-152,0.0087],[-148,-0.0133],[-144,0.0238],[-140,-0.0271],[-136,0.0031],[-132,0.0182],[-128,-0.0059],[-124,0.0117],[-120,-0.0226],[-116,0.0274],[-112,-0.0163],[-108,0.0066],[-104,-0.0107],
[-100,0.0155],[-96,-0.0289],[-92,0.0232],[-88,-0.0046],[-84,0.0091],[-80,-0.0209],[-76,0.0289],[-72,-0.0121],[-68,0.0024],[-64,0.0196],[-60,-0.0262],[-56,0.0138],[-52,-0.0086],[-48,0.0264],[-44,-0.0171],[-40,0.0052],[-36,-0.0247],[-32,0.0178],[-28,-0.0014],[-24,-0.0195],
[40,0.0161],[44,-0.0083],[48,0.0243],[52,-0.0227],[56,0.0032],[60,-0.0156],[64,0.0211],[68,-0.0042],[72,0.0283],[76,-0.0259],[80,0.0096],[84,-0.0118],[88,0.0172],[92,-0.0281],[96,0.0053],
[100,-0.0173],[104,0.0248],[108,-0.0027],[112,0.0139],[116,-0.0236],[120,0.0287],[124,-0.0089],[128,0.0074],[132,-0.0264],[136,0.0197],[140,-0.0141],[144,0.0016],[148,0.0252],[152,-0.0198],[156,0.0116],[160,-0.0057],[164,0.0219],[168,-0.0284],[172,0.0061],[176,-0.0127],[180,0.0276],[184,-0.0011],[188,0.0164],[192,-0.0223],[196,0.0089],
[200,-0.0069],[204,0.0261],[208,-0.0243],[212,0.0127],[216,-0.0031],[220,0.0201],[224,-0.0185],[228,0.0044],[232,0.0288],[236,-0.0117],[240,0.0158],[244,-0.0272],[248,0.0018],[252,0.0234],[256,-0.0149],[260,0.0082],[264,-0.0052],[268,0.0187],[272,-0.0278],[276,0.0063],[280,-0.0204],[284,0.0249],[288,-0.0091],[292,0.0136],[296,-0.0252],
[300,0.0281],[304,-0.0024],[308,0.0172],[312,-0.0196],[316,0.0059],[320,-0.0135],[324,0.0227],[328,-0.0274],[332,0.0101],[336,-0.0048],[340,0.0265],[344,-0.0159],[348,0.0023],[352,0.0191],[356,-0.0242],[360,0.0084],[364,-0.0103],[368,0.0238],[372,-0.0019],[376,-0.0271],[380,0.0152],[384,0.0049],[388,-0.0181],[392,0.0279],[396,-0.0067],
[400,0.0124],[404,-0.0218],[408,0.0213],[412,-0.0039],[416,-0.0268],[420,0.0066],[424,0.0276],[428,-0.0147],[432,0.0163],[436,-0.0003],[440,-0.0235],[444,0.0244],[448,0.0031],[452,-0.0171],[456,0.0118],[460,-0.0281],[464,0.0205],[468,-0.0064],[472,0.0087],[476,-0.0226],[480,0.0269],[484,-0.0108],[488,0.0014],[492,0.0187],[496,-0.0263],
[500,0.0132],[504,-0.0037],[508,0.0248],[512,-0.0192],[516,0.0053],[520,-0.0126],[524,0.0279],[528,-0.0241],[532,0.0107],[536,-0.0068],[540,0.0201],[544,-0.0271],[548,0.0024],[552,0.0159],[556,-0.0178],[560,0.0262],[564,-0.0019],[568,0.0089],[572,-0.0229],[576,0.0231],[580,-0.0112],[584,0.0042],[588,-0.0276],[592,0.0176],[596,-0.0051],
[600,0.0247],[604,-0.0198],[608,0.0073],[612,-0.0137],[616,0.0226],[620,-0.0011],[624,-0.0262],[628,0.0155],[632,0.0017],[636,-0.0171],[640,0.0269],[644,-0.0084],[648,0.0114],[652,-0.0246],[656,0.0199],[660,-0.0029],[664,0.0058],[668,-0.0208],[672,0.0262],[676,-0.0121],[680,0.0143],[684,-0.0059],[688,-0.0251],[692,0.0184],[696,0.0007],
[700,-0.0163],[704,0.0241],[708,-0.0229],[712,0.0102],[716,-0.0047],[720,0.0193],[724,-0.0255],[728,0.0034],[732,0.0259],[736,-0.0134],[740,0.0127],[744,-0.0013],[748,-0.0211],[752,0.0219],[756,-0.0081],[760,0.0068],[764,-0.0244],[768,0.0162],[772,-0.0027],[776,0.0254],[780,-0.0196],[784,0.0091],[788,-0.0118],[792,0.0228],[796,-0.0059],
[800,0.0133],[804,-0.0246],[808,0.0018],[812,0.0197],[816,-0.0152],[820,0.0251],[824,-0.0065],[828,0.0097],[832,-0.0227],[836,0.0036],[840,0.0229],[844,-0.0114],[848,0.0163],[852,-0.0243],[856,0.0009],[860,-0.0187],[864,0.0218],[868,-0.0048],[872,0.0129],[876,-0.0221],[880,0.0071],[884,-0.0097],[888,0.0236],[892,-0.0204],[896,0.0035],
[900,-0.0142],[904,0.0188],[908,-0.0024],[912,0.0226],[916,-0.0216],[920,0.0083],[924,-0.0123],[928,0.0171],[932,-0.0043],[936,0.0219],[940,-0.0183],[944,0.0017],[948,-0.0209],[952,0.0151],[956,-0.0067],[960,0.0212],[964,-0.0132],[968,0.0065],[972,-0.0189],[976,0.0149],[980,-0.0041],[984,0.0178],[988,-0.0117]
];

// ---------- styling ----------
const BLUE = '#5E81B5';
const FRAME = '#7a7a7a';
const TXT = '#222';
const FONT = '"Liberation Sans", Arial, sans-serif';
const minus = v => (v < 0 ? '\u2212' : '') + Math.abs(v);

function xAxesFor(gi) {
  const base = {type:'value', gridIndex:gi, min:-2000, max:1100, splitLine:{show:false}};
  return [
    Object.assign({}, base, {position:'bottom',
      axisLine:{show:true, lineStyle:{color:FRAME, width:1}},
      axisTick:{show:true, inside:true, length:4, customValues:xTicks, lineStyle:{color:FRAME}},
      axisLabel:{show:true, customValues:xTicks, formatter:v=>minus(v), color:TXT, fontSize:14, fontFamily:FONT, margin:5},
      name:'n', nameLocation:'middle', nameGap:21, nameMoveOverlap:false,
      nameTextStyle:{fontStyle:'italic', fontSize:14, color:TXT, fontFamily:FONT}}),
    Object.assign({}, base, {position:'top',
      axisLine:{show:true, lineStyle:{color:FRAME, width:1}},
      axisTick:{show:true, inside:true, length:4, customValues:xTicks, lineStyle:{color:FRAME}},
      axisLabel:{show:false}}),
    Object.assign({}, base, {position:'bottom', interval:100,
      axisLine:{show:false}, axisTick:{show:true, inside:true, length:2, lineStyle:{color:FRAME}}, axisLabel:{show:false}}),
    Object.assign({}, base, {position:'top', interval:100,
      axisLine:{show:false}, axisTick:{show:true, inside:true, length:2, lineStyle:{color:FRAME}}, axisLabel:{show:false}})
  ];
}
function yAxesFor(gi, mn, mx, ticks, fmt, nameRich, margin, gap) {
  const base = {type:'value', gridIndex:gi, min:mn, max:mx, splitLine:{show:false}};
  return [
    Object.assign({}, base, {position:'left',
      axisLine:{show:true, onZero:false, lineStyle:{color:FRAME, width:1}},
      axisTick:{show:true, inside:true, length:4, customValues:ticks, lineStyle:{color:FRAME}},
      axisLabel:{show:true, customValues:ticks, formatter:fmt, color:TXT, fontSize:14, fontFamily:FONT, margin:margin},
      name:nameRich, nameLocation:'middle', nameGap:gap, nameMoveOverlap:false,
      nameTextStyle:{color:TXT, fontFamily:FONT, fontSize:14,
        rich:{i:{fontStyle:'italic', fontSize:14, fontFamily:FONT, color:TXT, lineHeight:18, verticalAlign:'bottom'},
              s:{fontStyle:'italic', fontSize:9, fontFamily:FONT, color:TXT, lineHeight:18, verticalAlign:'bottom', padding:[0,0,-3,0]},
              t:{fontSize:14, fontFamily:FONT, color:TXT, lineHeight:18, verticalAlign:'bottom'}}}}),
    Object.assign({}, base, {position:'right',
      axisLine:{show:true, onZero:false, lineStyle:{color:FRAME, width:1}},
      axisTick:{show:true, inside:true, length:4, customValues:ticks, lineStyle:{color:FRAME}},
      axisLabel:{show:false}}),
    Object.assign({}, base, {position:'left', interval:0.005,
      axisLine:{show:false}, axisTick:{show:true, inside:true, length:2, lineStyle:{color:FRAME}}, axisLabel:{show:false}}),
    Object.assign({}, base, {position:'right', interval:0.005,
      axisLine:{show:false}, axisTick:{show:true, inside:true, length:2, lineStyle:{color:FRAME}}, axisLabel:{show:false}})
  ];
}

const chart = echarts.init(document.getElementById('c'), null, {renderer:'canvas'});
const lineS = (gi, data, w, op) => ({type:'line', xAxisIndex:gi*4, yAxisIndex:gi*4, data, showSymbol:false, symbol:'none',
  lineStyle:{color:BLUE, width:w, opacity:op}, z:3, silent:true});
const dotS = (gi, data) => ({type:'scatter', xAxisIndex:gi*4, yAxisIndex:gi*4, data, symbol:'circle', symbolSize:2.6,
  itemStyle:{color:BLUE, opacity:0.95}, z:2, silent:true, large:false});

chart.setOption({
  animation:false,
  backgroundColor:'#fff',
  grid:[
    {left:67, top:12, width:328, height:202},
    {left:486, top:12, width:323, height:200}
  ],
  xAxis: xAxesFor(0).concat(xAxesFor(1)),
  yAxis: yAxesFor(0, 0.45, 0.55, aTicks, v=>v.toFixed(2), '{i|a}{s|n}{t|(1000)}', 4, 37)
    .concat(yAxesFor(1, -0.05, 0.05, bTicks, v=>(v < -1e-9 ? '\u2212' : '') + Math.abs(v).toFixed(2), '{i|b}{s|n}{t|(1000)}', 7, 42)),
  series:[
    dotS(0, aCloud),
    dotS(0, aCloudMore),
    dotS(0, aOutliers),
    lineS(0, aLowerEdge, 2.2, 0.9),
    lineS(0, aUpperEdge, 1.8, 0.85),
    {type:'line', xAxisIndex:0, yAxisIndex:0, data:[], z:6, silent:true,
      markLine:{silent:true, symbol:['none','none'], label:{show:false}, animation:false,
        lineStyle:{color:'#a8a8a8', width:2, type:'solid'}, data:[{xAxis:0}]}},
    dotS(1, bCloud),
    dotS(1, bCloudMore),
    dotS(1, bOutliers),
    lineS(1, bStepLeft, 2.2, 0.9),
    lineS(1, bStepRight, 2.2, 0.9),
    lineS(1, bSpikeUp, 2.5, 1),
    lineS(1, bSpikeDown, 2.5, 1),
    {type:'line', xAxisIndex:4, yAxisIndex:4, data:[], z:6, silent:true,
      markLine:{silent:true, symbol:['none','none'], label:{show:false}, animation:false,
        lineStyle:{color:'#444', width:1, type:'solid'}, data:[{xAxis:0},{yAxis:0}]}}
  ]
});
</script>
</body></html>
